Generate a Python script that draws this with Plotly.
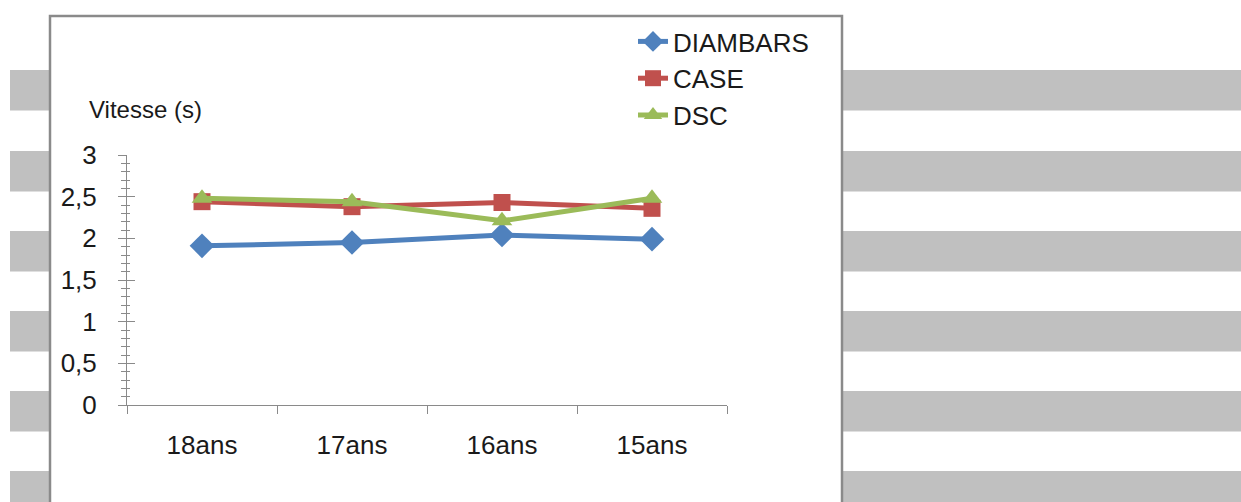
import plotly.graph_objects as go

categories = ["18ans", "17ans", "16ans", "15ans"]
diambars = [1.91, 1.95, 2.04, 1.99]
case = [2.44, 2.38, 2.43, 2.36]
dsc = [2.48, 2.44, 2.21, 2.48]
series_names = ["DIAMBARS", "CASE", "DSC"]
colors = ["#4F81BD", "#C0504D", "#9BBB59"]
symbols = ["diamond", "square", "triangle-up"]
marker_sizes = [19, 17, 18]

W, H = 1241, 502
L, R, T, B = 127, 727, 155, 405  # plot area in pixels

def px_x(p):
    return (p - L) / (R - L)

def px_y(p):
    return (B - p) / (B - T)

FONT = "Arial, Liberation Sans, sans-serif"
TXT = "#1a1a1a"

fig = go.Figure()
for name, vals, col, sym, ms in zip(series_names, [diambars, case, dsc], colors, symbols, marker_sizes):
    fig.add_trace(go.Scatter(
        x=categories, y=vals, name=name, mode="lines+markers",
        line=dict(color=col, width=5),
        marker=dict(symbol=sym, size=ms, color=col),
        legendgroup=name,
    ))
# invisible helper trace so the overlay axis (cross ticks) is drawn
fig.add_trace(go.Scatter(x=categories, y=diambars, yaxis="y2", mode="lines",
                         line=dict(width=0), opacity=0, showlegend=False, hoverinfo="skip"))

shapes = []
# background grey stripes
for top in [70, 151, 231, 311, 391, 471]:
    shapes.append(dict(type="rect", xref="paper", yref="paper",
                       x0=px_x(10), x1=px_x(1241), y0=px_y(top + 40.5), y1=px_y(top),
                       fillcolor="#C0C0C0", line=dict(width=0), layer="below"))
# white chart box with grey border
shapes.append(dict(type="rect", xref="paper", yref="paper",
                   x0=px_x(50), x1=px_x(842), y0=px_y(520), y1=px_y(16),
                   fillcolor="white", line=dict(color="#8A8A8A", width=2.5), layer="below"))

fig.update_layout(
    width=W, height=H,
    margin=dict(l=L, r=W - R, t=T, b=H - B, pad=0),
    paper_bgcolor="white", plot_bgcolor="rgba(0,0,0,0)",
    font=dict(family=FONT, size=26, color=TXT),
    showlegend=True,
    legend=dict(x=px_x(633), y=px_y(18), xanchor="left", yanchor="top",
                bgcolor="rgba(0,0,0,0)", font=dict(size=26, color=TXT),
                tracegroupgap=0, itemwidth=30),
    shapes=shapes,
    annotations=[dict(text="Vitesse (s)", xref="paper", yref="paper",
                      x=px_x(87), y=px_y(109), xanchor="left", yanchor="middle",
                      showarrow=False, font=dict(size=24, color=TXT))],
    xaxis=dict(type="category", range=[-0.5, 3.5], showgrid=False, zeroline=False,
               showline=True, linecolor="#8A8A8A", linewidth=1,
               ticks="outside", ticklen=8, tickcolor="#8A8A8A", tickson="boundaries",
               ticklabelstandoff=17, tickfont=dict(size=26, color=TXT)),
    yaxis=dict(range=[0, 3], dtick=0.5, tick0=0, showgrid=False, zeroline=False,
               showline=True, linecolor="#8A8A8A", linewidth=1,
               ticks="outside", ticklen=8, tickcolor="#8A8A8A",
               minor=dict(dtick=0.1, ticks="outside", ticklen=5, tickcolor="#8A8A8A", showgrid=False),
               ticklabelstandoff=16,
               tickformat=".1~f", tickfont=dict(size=26, color=TXT)),
    yaxis2=dict(range=[0, 3], dtick=0.5, tick0=0, overlaying="y", side="left", anchor="x",
                showgrid=False, zeroline=False, showline=False, showticklabels=False,
                ticks="inside", ticklen=8, tickcolor="#8A8A8A",
                minor=dict(dtick=0.1, ticks="inside", ticklen=3, tickcolor="#8A8A8A", showgrid=False)),
    separators=", ",
)

fig.write_html("out.html")
